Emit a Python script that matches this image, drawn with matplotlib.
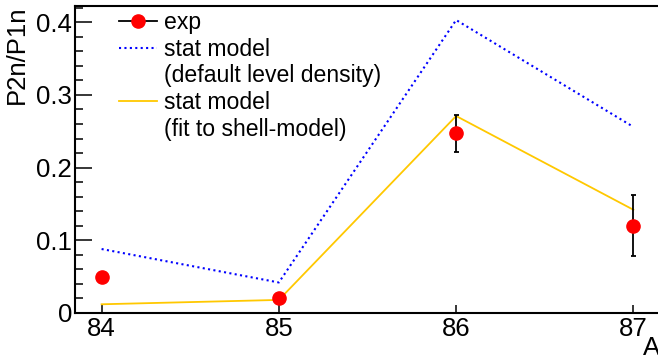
import matplotlib
matplotlib.use("Agg")
import matplotlib.pyplot as plt
from matplotlib.lines import Line2D
from matplotlib.ticker import MultipleLocator, FixedLocator

plt.rcParams['font.family'] = ['Liberation Sans', 'DejaVu Sans']

# Mass number A
mass_numbers = [84, 85, 86, 87]
# Measured P2n/P1n ratios with uncertainties
exp_ratio = [0.050, 0.020, 0.247, 0.120]
exp_err = [0.0, 0.0, 0.026, 0.042]
# Statistical model with default level density
stat_default = [0.088, 0.042, 0.403, 0.256]
# Statistical model with level density fitted to shell-model
stat_shell = [0.012, 0.018, 0.271, 0.142]

tick_labels = ["84", "85", "86", "87"]

W, H, DPI = 658, 356, 100
fig = plt.figure(figsize=(W / DPI, H / DPI), dpi=DPI)

# axes frame in pixels: left 75, right 660, top 5.5, bottom 313
left, right, top, bottom = 75, 660, 5.5, 313
ax = fig.add_axes([left / W, (H - bottom) / H, (right - left) / W, (bottom - top) / H])

yellow = '#ffc800'
blue = '#0000ff'

ax.plot(mass_numbers, stat_default, color=blue, lw=1.5, linestyle=(0, (1, 1.6)))
ax.plot(mass_numbers, stat_shell, color=yellow, lw=1.3)
ax.errorbar(mass_numbers, exp_ratio, yerr=exp_err, fmt='o', color='red',
            markersize=9.5, ecolor='black', elinewidth=1.3, capsize=1.8,
            capthick=1.3, zorder=5)

ax.set_xlim(83.85, 87.15)
ax.set_ylim(0, 0.423)

ax.xaxis.set_major_locator(FixedLocator(mass_numbers))
ax.set_xticklabels(tick_labels)
ax.yaxis.set_minor_locator(MultipleLocator(0.02))
ax.set_yticks([0, 0.1, 0.2, 0.3, 0.4])
ax.set_yticklabels(["0", "0.1", "0.2", "0.3", "0.4"])

ax.tick_params(axis='y', which='major', direction='in', length=12.2, width=1.1,
               labelsize=18.5, pad=2)
ax.tick_params(axis='y', which='minor', direction='in', length=5.8, width=1.1)
ax.tick_params(axis='x', which='major', direction='in', length=5.8, width=1.1,
               labelsize=18.5, pad=3)

for side in ['left', 'bottom', 'top']:
    ax.spines[side].set_linewidth(1.5)
ax.spines['right'].set_visible(False)

ax.set_ylabel("P2n/P1n", fontsize=18.5, loc='top')
ax.yaxis.set_label_coords((29 - left) / (right - left), 1.0)

fig.text(right / W, 1 - 336 / H, "A", fontsize=18.5, ha='right', va='top')

# legend: ROOT-like, handles aligned with first line of each entry
exp_handle = Line2D([], [], color='black', lw=1.3, marker='o', markersize=9.5,
                    markerfacecolor='red', markeredgecolor='red')
default_handle = Line2D([], [], color=blue, lw=1.5, linestyle=(0, (1, 1.6)))
shell_handle = Line2D([], [], color=yellow, lw=1.3)
blank = Line2D([], [], color='none')
leg = ax.legend([exp_handle, default_handle, blank, shell_handle, blank],
                ["exp", "stat model", "(default level density)", "stat model",
                 "(fit to shell-model)"],
                loc='upper left',
                bbox_to_anchor=((119 - left) / (right - left), 1 - (11 - top) / (bottom - top)),
                frameon=False, fontsize=16.6, handlelength=1.65, handletextpad=0.3,
                borderpad=0, borderaxespad=0, labelspacing=0.16)

fig.savefig("out.png", dpi=DPI)
